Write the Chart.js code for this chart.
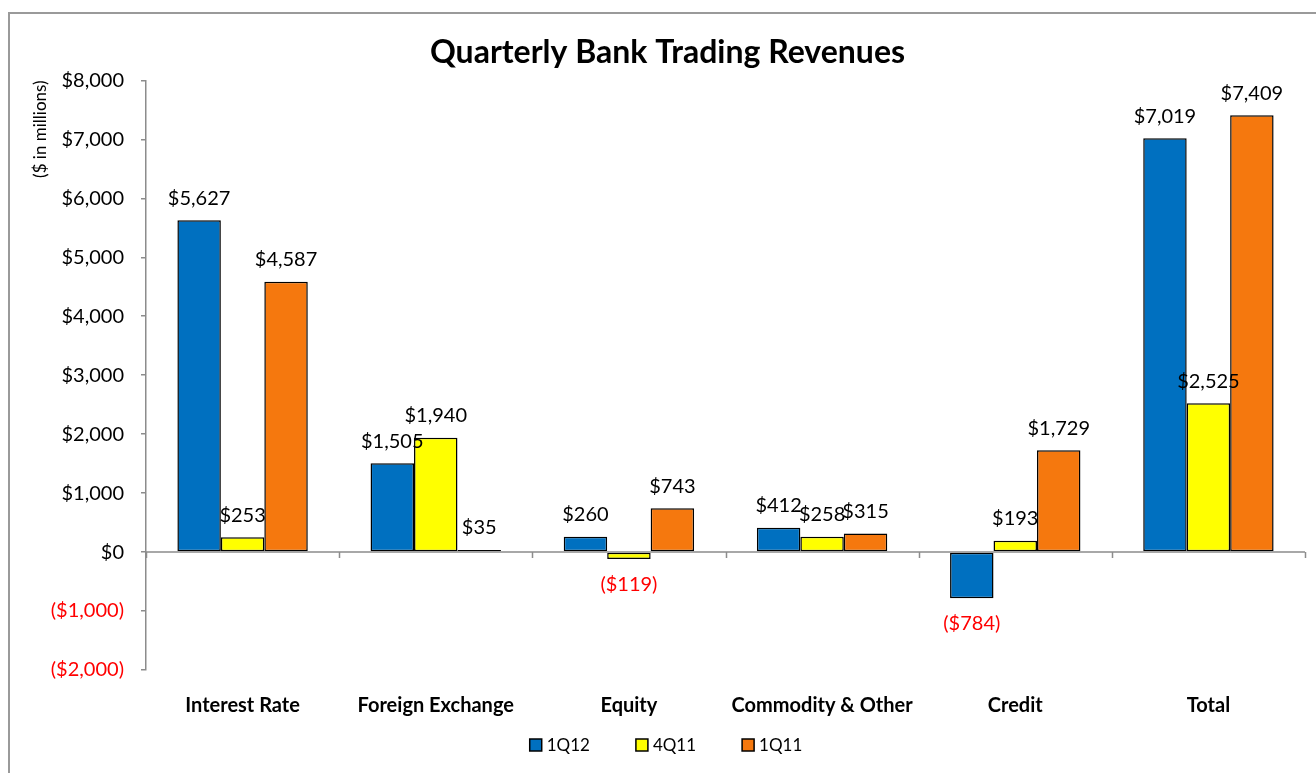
<!DOCTYPE html>
<html>
<head>
<meta charset="utf-8">
<script src="https://cdn.jsdelivr.net/npm/chart.js@4.4.0/dist/chart.umd.min.js"></script>
<style>
html, body { margin: 0; padding: 0; background: #fff; }
</style>
</head>
<body>
<canvas id="revenueChart" width="1316" height="773"></canvas>
<script>
// data ($ in millions)
var categories = ['Interest Rate', 'Foreign Exchange', 'Equity', 'Commodity & Other', 'Credit', 'Total'];
var seriesNames = ['1Q12', '4Q11', '1Q11'];
var values1Q12 = [5627, 1505, 260, 412, -784, 7019];
var values4Q11 = [253, 1940, -119, 258, 193, 2525];
var values1Q11 = [4587, 35, 743, 315, 1729, 7409];

var FONT = 'Lato, "Open Sans", sans-serif';
var seriesColors = ['#0070C0', '#FFFF00', '#F5780E'];

function money(v) {
    var s = '$' + Math.abs(v).toLocaleString('en-US');
    return v < 0 ? '(' + s + ')' : s;
}

// grey frame round the chart
var framePlugin = {
    id: 'frame',
    beforeDraw: function (chart) {
        var ctx = chart.ctx;
        ctx.save();
        ctx.strokeStyle = '#9a9a9a';
        ctx.lineWidth = 2;
        ctx.beginPath();
        ctx.moveTo(9, chart.height);
        ctx.lineTo(9, 13);
        ctx.lineTo(chart.width, 13);
        ctx.stroke();
        ctx.restore();
    }
};

// horizontal axis line at zero with tick marks between the categories
var zeroAxisPlugin = {
    id: 'zeroAxis',
    afterDatasetsDraw: function (chart) {
        var ctx = chart.ctx;
        var x = chart.scales.x;
        var y0 = chart.scales.y.getPixelForValue(0);
        var step = x.width / categories.length;
        ctx.save();
        ctx.strokeStyle = '#8c8c8c';
        ctx.lineWidth = 1.5;
        ctx.beginPath();
        ctx.moveTo(x.left, y0);
        ctx.lineTo(x.right, y0);
        for (var i = 0; i <= categories.length; i++) {
            var px = Math.round(x.left + i * step) + 0.5;
            ctx.moveTo(px, y0);
            ctx.lineTo(px, y0 + 6);
        }
        ctx.stroke();
        ctx.restore();
    }
};

// value labels above / below each bar
var valueLabelPlugin = {
    id: 'valueLabels',
    afterDatasetsDraw: function (chart) {
        var ctx = chart.ctx;
        ctx.save();
        ctx.font = '20px ' + FONT;
        ctx.textAlign = 'center';
        ctx.textBaseline = 'middle';
        chart.data.datasets.forEach(function (ds, di) {
            chart.getDatasetMeta(di).data.forEach(function (bar, i) {
                var v = ds.data[i];
                if (v < 0) {
                    ctx.fillStyle = '#FF0000';
                    ctx.fillText(money(v), bar.x, bar.y + 25);
                } else {
                    ctx.fillStyle = '#000';
                    ctx.fillText(money(v), bar.x, bar.y - 22);
                }
            });
        });
        ctx.restore();
    }
};

// legend under the axis labels
var legendPlugin = {
    id: 'bottomLegend',
    afterDraw: function (chart) {
        var ctx = chart.ctx;
        var box = 12, gap = 5, spacing = 46;
        ctx.save();
        ctx.font = '17px ' + FONT;
        ctx.textBaseline = 'middle';
        var widths = chart.data.datasets.map(function (ds) {
            return box + gap + ctx.measureText(ds.label).width;
        });
        var total = widths.reduce(function (a, b) { return a + b; }, 0) + spacing * (widths.length - 1);
        var x = 666 - total / 2;
        var y = 745;
        chart.data.datasets.forEach(function (ds, i) {
            ctx.fillStyle = ds.backgroundColor;
            ctx.fillRect(x, y - box / 2, box, box);
            ctx.strokeStyle = '#000';
            ctx.lineWidth = 1.5;
            ctx.strokeRect(x, y - box / 2, box, box);
            ctx.fillStyle = '#000';
            ctx.fillText(ds.label, x + box + gap, y + 1);
            x += widths[i] + spacing;
        });
        ctx.restore();
    }
};

var seriesValues = [values1Q12, values4Q11, values1Q11];

new Chart(document.getElementById('revenueChart').getContext('2d'), {
    type: 'bar',
    data: {
        labels: categories,
        datasets: seriesNames.map(function (name, i) {
            return {
                label: name,
                data: seriesValues[i],
                backgroundColor: seriesColors[i],
                borderColor: '#000',
                borderWidth: 1.5,
                borderSkipped: false,
                barPercentage: 1,
                categoryPercentage: 0.675
            };
        })
    },
    options: {
        responsive: false,
        animation: false,
        layout: { padding: { left: 30, right: 11, top: 0, bottom: 53 } },
        plugins: {
            legend: { display: false },
            tooltip: { enabled: false },
            title: {
                display: true,
                text: 'Quarterly Bank Trading Revenues',
                color: '#000',
                font: { family: FONT, size: 32, weight: 'bold' },
                padding: { top: 33, bottom: 9 }
            }
        },
        scales: {
            x: {
                grid: { display: false, drawTicks: false },
                border: { display: false },
                ticks: {
                    color: '#000',
                    padding: 24,
                    maxRotation: 0,
                    autoSkip: false,
                    font: { family: FONT, size: 20, weight: 'bold' }
                },
                afterFit: function (scale) { scale.height = 50; }
            },
            y: {
                min: -2000,
                max: 8000,
                ticks: {
                    stepSize: 1000,
                    padding: 17,
                    callback: function (v) { return money(v); },
                    color: function (c) { return c.tick.value < 0 ? '#FF0000' : '#000'; },
                    font: { family: FONT, size: 20 }
                },
                grid: { drawOnChartArea: false, drawTicks: true, tickLength: 5, color: '#8c8c8c', lineWidth: 1.5 },
                border: { color: '#8c8c8c', width: 1.5 },
                title: {
                    display: true,
                    text: '($ in millions)',
                    align: 'end',
                    color: '#000',
                    padding: { top: 0, bottom: 0 },
                    font: { family: FONT, size: 17 }
                },
                afterFit: function (scale) { scale.width = 116; }
            }
        }
    },
    plugins: [framePlugin, zeroAxisPlugin, valueLabelPlugin, legendPlugin]
});
</script>
</body>
</html>
